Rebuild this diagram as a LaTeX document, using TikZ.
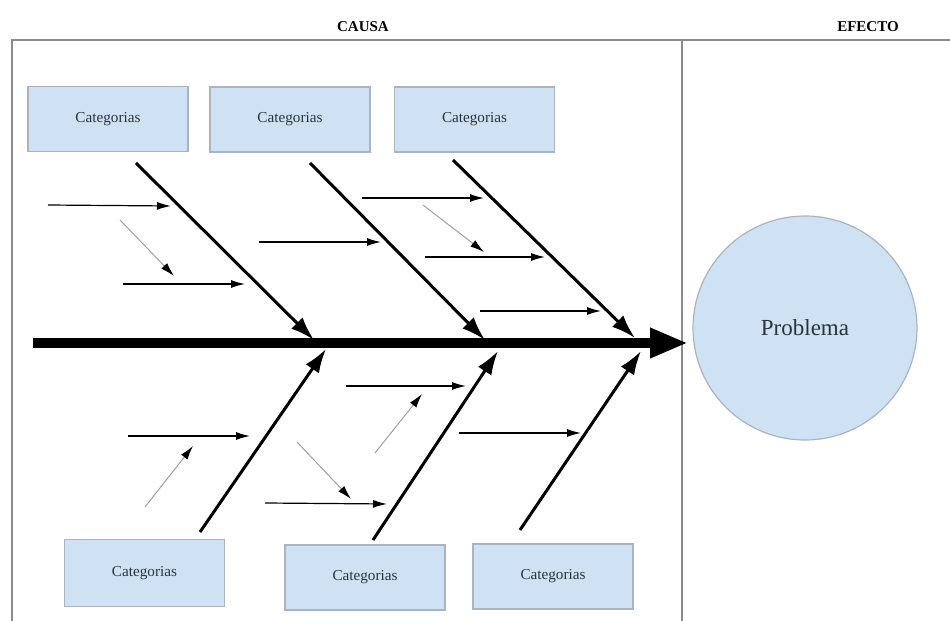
\documentclass[tikz,border=0pt]{standalone}
\usepackage{fontspec}
\setmainfont{Liberation Serif}
\usetikzlibrary{arrows.meta}
\definecolor{boxfill}{HTML}{CFE2F3}
\definecolor{boxline}{HTML}{A9B4BE}
\definecolor{textc}{HTML}{2A333B}
\definecolor{framec}{HTML}{8C8C8C}
\begin{document}
\begin{tikzpicture}[x=0.5pt,y=-0.5pt,
 catbox/.style={draw=boxline, fill=boxfill, line width=0.6pt, minimum width=80pt, minimum height=32.5pt, inner sep=0pt, font=\fontsize{7.6}{8}\selectfont, text=textc},
 probnode/.style={circle, draw=boxline, fill=boxfill, line width=0.6pt, minimum size=112pt, inner sep=0pt, font=\fontsize{11.5}{12}\selectfont, text=textc},
 frameline/.style={draw=framec, line width=0.8pt},
 headlabel/.style={font=\bfseries\fontsize{7.5}{8}\selectfont, inner sep=0pt},
 spine/.style={line width=5pt, -{Triangle[length=19pt,width=14pt]}},
 bone/.style={line width=1.5pt, -{Latex[length=12pt,width=8pt]}},
 twig/.style={line width=0.6pt, -{Latex[length=7pt,width=4pt]}},
 gtwig/.style={line width=0.5pt, draw=gray!75, -{Latex[length=7pt,width=4pt,color=black]}}
]
\useasboundingbox (0,0) rectangle (950,621);
% frame
\coordinate (fTL) at (12,40);
\coordinate (fTR) at (950,40);
\coordinate (fBL) at (12,621);
\coordinate (dT) at (682,40);
\coordinate (dB) at (682,621);
\draw[frameline] (fBL) -- (fTL) -- (fTR);
\draw[frameline] (dT) -- (dB);
\node[headlabel] (causa) at (363,27) {CAUSA};
\node[headlabel] (efecto) at (868,27) {EFECTO};
% category boxes
\node[catbox] (b1) at (108,119) {Categorias};
\node[catbox] (b2) at (290,119.5) {Categorias};
\node[catbox] (b3) at (474.5,119.5) {Categorias};
\node[catbox, minimum height=33.5pt] (b4) at (144.5,573) {Categorias};
\node[catbox] (b5) at (365,577.5) {Categorias};
\node[catbox] (b6) at (553,576.5) {Categorias};
% problem
\node[probnode] (prob) at (805,328) {Problema};
% spine
\coordinate (sL) at (33,343);
\coordinate (sR) at (688,343);
\draw[spine] (sL) -- (sR);
% bones
\coordinate (t1s) at (136,163); \coordinate (t1e) at (314,340);
\coordinate (t2s) at (310,163); \coordinate (t2e) at (485,340);
\coordinate (t3s) at (453,160); \coordinate (t3e) at (635,338);
\coordinate (u1s) at (200,532); \coordinate (u1e) at (326,349);
\coordinate (u2s) at (373,540); \coordinate (u2e) at (498,351);
\coordinate (u3s) at (520,530); \coordinate (u3e) at (641,351);
\draw[bone] (t1s) -- (t1e);
\draw[bone] (t2s) -- (t2e);
\draw[bone] (t3s) -- (t3e);
\draw[bone] (u1s) -- (u1e);
\draw[bone] (u2s) -- (u2e);
\draw[bone] (u3s) -- (u3e);
% twigs top
\coordinate (a1s) at (48,205); \coordinate (a1e) at (171,206);
\coordinate (a2s) at (120,220); \coordinate (a2e) at (174,276);
\coordinate (a3s) at (123,284); \coordinate (a3e) at (245,284);
\coordinate (a4s) at (259,242); \coordinate (a4e) at (381,242);
\coordinate (a5s) at (362,198); \coordinate (a5e) at (484,198);
\coordinate (a6s) at (423,205); \coordinate (a6e) at (484,252);
\coordinate (a7s) at (425,257); \coordinate (a7e) at (545,257);
\coordinate (a8s) at (480,311); \coordinate (a8e) at (601,311);
\draw[twig] (a1s) -- (a1e);
\draw[gtwig] (a2s) -- (a2e);
\draw[twig] (a3s) -- (a3e);
\draw[twig] (a4s) -- (a4e);
\draw[twig] (a5s) -- (a5e);
\draw[gtwig] (a6s) -- (a6e);
\draw[twig] (a7s) -- (a7e);
\draw[twig] (a8s) -- (a8e);
% twigs bottom
\coordinate (c1s) at (128,436); \coordinate (c1e) at (250,436);
\coordinate (c2s) at (145,507); \coordinate (c2e) at (193,446);
\coordinate (c3s) at (346,386); \coordinate (c3e) at (466,386);
\coordinate (c4s) at (375,453); \coordinate (c4e) at (422,394);
\coordinate (c5s) at (297,442); \coordinate (c5e) at (351,499);
\coordinate (c6s) at (265,503); \coordinate (c6e) at (387,504);
\coordinate (c7s) at (459,433); \coordinate (c7e) at (581,433);
\draw[twig] (c1s) -- (c1e);
\draw[gtwig] (c2s) -- (c2e);
\draw[twig] (c3s) -- (c3e);
\draw[gtwig] (c4s) -- (c4e);
\draw[gtwig] (c5s) -- (c5e);
\draw[twig] (c6s) -- (c6e);
\draw[twig] (c7s) -- (c7e);
\end{tikzpicture}
\end{document}
